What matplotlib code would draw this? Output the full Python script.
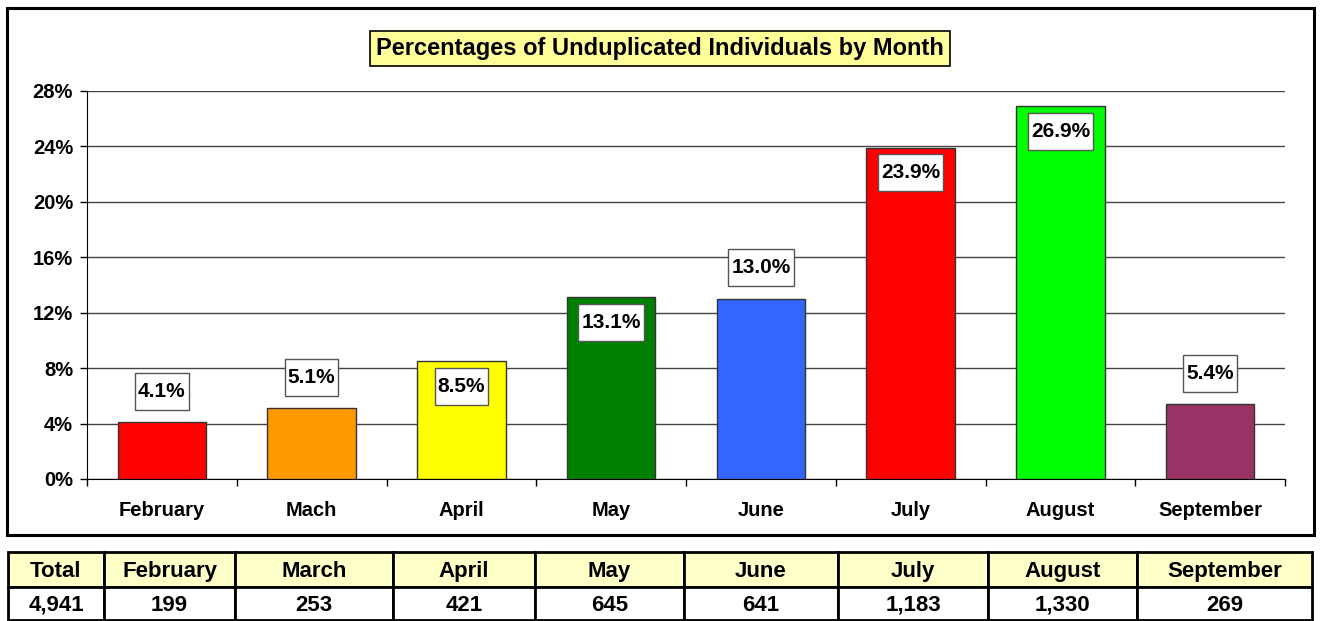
import matplotlib
matplotlib.use("Agg")
import matplotlib.pyplot as plt
from matplotlib.patches import Rectangle
from matplotlib.path import Path
import matplotlib.ticker as mticker

plt.rcParams['font.family'] = ['Liberation Sans', 'DejaVu Sans']
plt.rcParams['font.weight'] = 'bold'

# ---- data ----
months = ["February", "Mach", "April", "May", "June", "July", "August", "September"]
percents = [4.1, 5.1, 8.5, 13.1, 13.0, 23.9, 26.9, 5.4]
bar_colors = ["#FF0000", "#FF9900", "#FFFF00", "#008000", "#3366FF", "#FF0000", "#00FF00", "#993366"]
label_pos = ["above", "above", "inside", "inside", "above", "inside", "inside", "above"]
yticks = [0, 4, 8, 12, 16, 20, 24, 28]
title = "Percentages of Unduplicated Individuals by Month"

table_headers = ["Total", "February", "March", "April", "May", "June", "July", "August", "September"]
table_values = ["4,941", "199", "253", "421", "645", "641", "1,183", "1,330", "269"]

W, H = 1321, 621
fig = plt.figure(figsize=(W / 100, H / 100), dpi=100)
fig.patch.set_facecolor("white")


def fx(px):
    return px / W


def fy(py):
    return 1 - py / H


def make_box(padx, pady):
    """Rectangular box style with separate horizontal / vertical padding (pixels)."""
    def box(x0, y0, width, height, mutation_size):
        xa, ya = x0 - padx, y0 - pady
        xb, yb = x0 + width + padx, y0 + height + pady
        return Path([(xa, ya), (xb, ya), (xb, yb), (xa, yb), (xa, ya)],
                    [Path.MOVETO, Path.LINETO, Path.LINETO, Path.LINETO, Path.CLOSEPOLY])
    return box


# outer chart border
fig.patches.append(Rectangle((fx(7), fy(535)), fx(1314) - fx(7), fy(8) - fy(535),
                             transform=fig.transFigure, fill=False, edgecolor="black",
                             linewidth=2.2, zorder=0))

# main axes
L, R, T, B = 87, 1285, 91, 479
ax = fig.add_axes([fx(L), fy(B), fx(R) - fx(L), fy(T) - fy(B)])
x = list(range(len(months)))
ax.bar(x, percents, width=0.59, color=bar_colors, edgecolor="#333333", linewidth=1.0, zorder=3)
ax.set_xlim(-0.5, len(months) - 0.5)
ax.set_ylim(0, 28)
ax.set_yticks(yticks)
ax.yaxis.set_major_formatter(mticker.FuncFormatter(lambda v, p: f"{v:.0f}%"))
ax.grid(axis="y", color="#444444", linewidth=1.0, zorder=0)
ax.set_axisbelow(True)
for s in ["top", "right"]:
    ax.spines[s].set_visible(False)
ax.spines["left"].set_color("black")
ax.spines["bottom"].set_color("black")
ax.tick_params(axis="y", length=5, width=1, labelsize=14.5, pad=5)
ax.set_xticks(x)
ax.set_xticklabels(months, fontsize=14.5, fontweight="bold")
ax.tick_params(axis="x", length=0, pad=16)
ax.set_xticks([i - 0.5 for i in range(len(months) + 1)], minor=True)
ax.tick_params(axis="x", which="minor", length=5, width=1)
for lab in ax.get_yticklabels():
    lab.set_fontweight("bold")

# data labels
for xi, v, pos in zip(x, percents, label_pos):
    off = 31 if pos == "above" else -25
    ax.annotate(f"{v:.1f}%", (xi, v), xytext=(0, off * 0.72), textcoords="offset points",
                ha="center", va="center", fontsize=15, fontweight="bold", zorder=5,
                bbox=dict(boxstyle=make_box(3, 9), facecolor="white",
                          edgecolor="#555555", linewidth=1))

# title box
fig.text(fx(660), fy(48), title, ha="center", va="center", fontsize=17, fontweight="bold",
         bbox=dict(boxstyle=make_box(6, 6), facecolor="#FFFF99", edgecolor="black", linewidth=1.2))

# table
col_edges = [8, 104, 235, 393, 535, 684, 838, 988, 1137, 1312]
row_edges = [552, 587, 620]
tax = fig.add_axes([0, 0, 1, 1])
tax.set_xlim(0, W)
tax.set_ylim(H, 0)
tax.axis("off")
for i in range(len(table_headers)):
    x0, x1 = col_edges[i], col_edges[i + 1]
    tax.add_patch(Rectangle((x0, row_edges[0]), x1 - x0, row_edges[1] - row_edges[0],
                            facecolor="#FFFFC8", edgecolor="black", linewidth=2))
    tax.add_patch(Rectangle((x0, row_edges[1]), x1 - x0, row_edges[2] - row_edges[1],
                            facecolor="white", edgecolor="black", linewidth=2))
    tax.text((x0 + x1) / 2, (row_edges[0] + row_edges[1]) / 2 + 2, table_headers[i],
             ha="center", va="center", fontsize=16, fontweight="bold")
    tax.text((x0 + x1) / 2, (row_edges[1] + row_edges[2]) / 2 + 2, table_values[i],
             ha="center", va="center", fontsize=16, fontweight="bold")

fig.savefig("out.png", dpi=100)
